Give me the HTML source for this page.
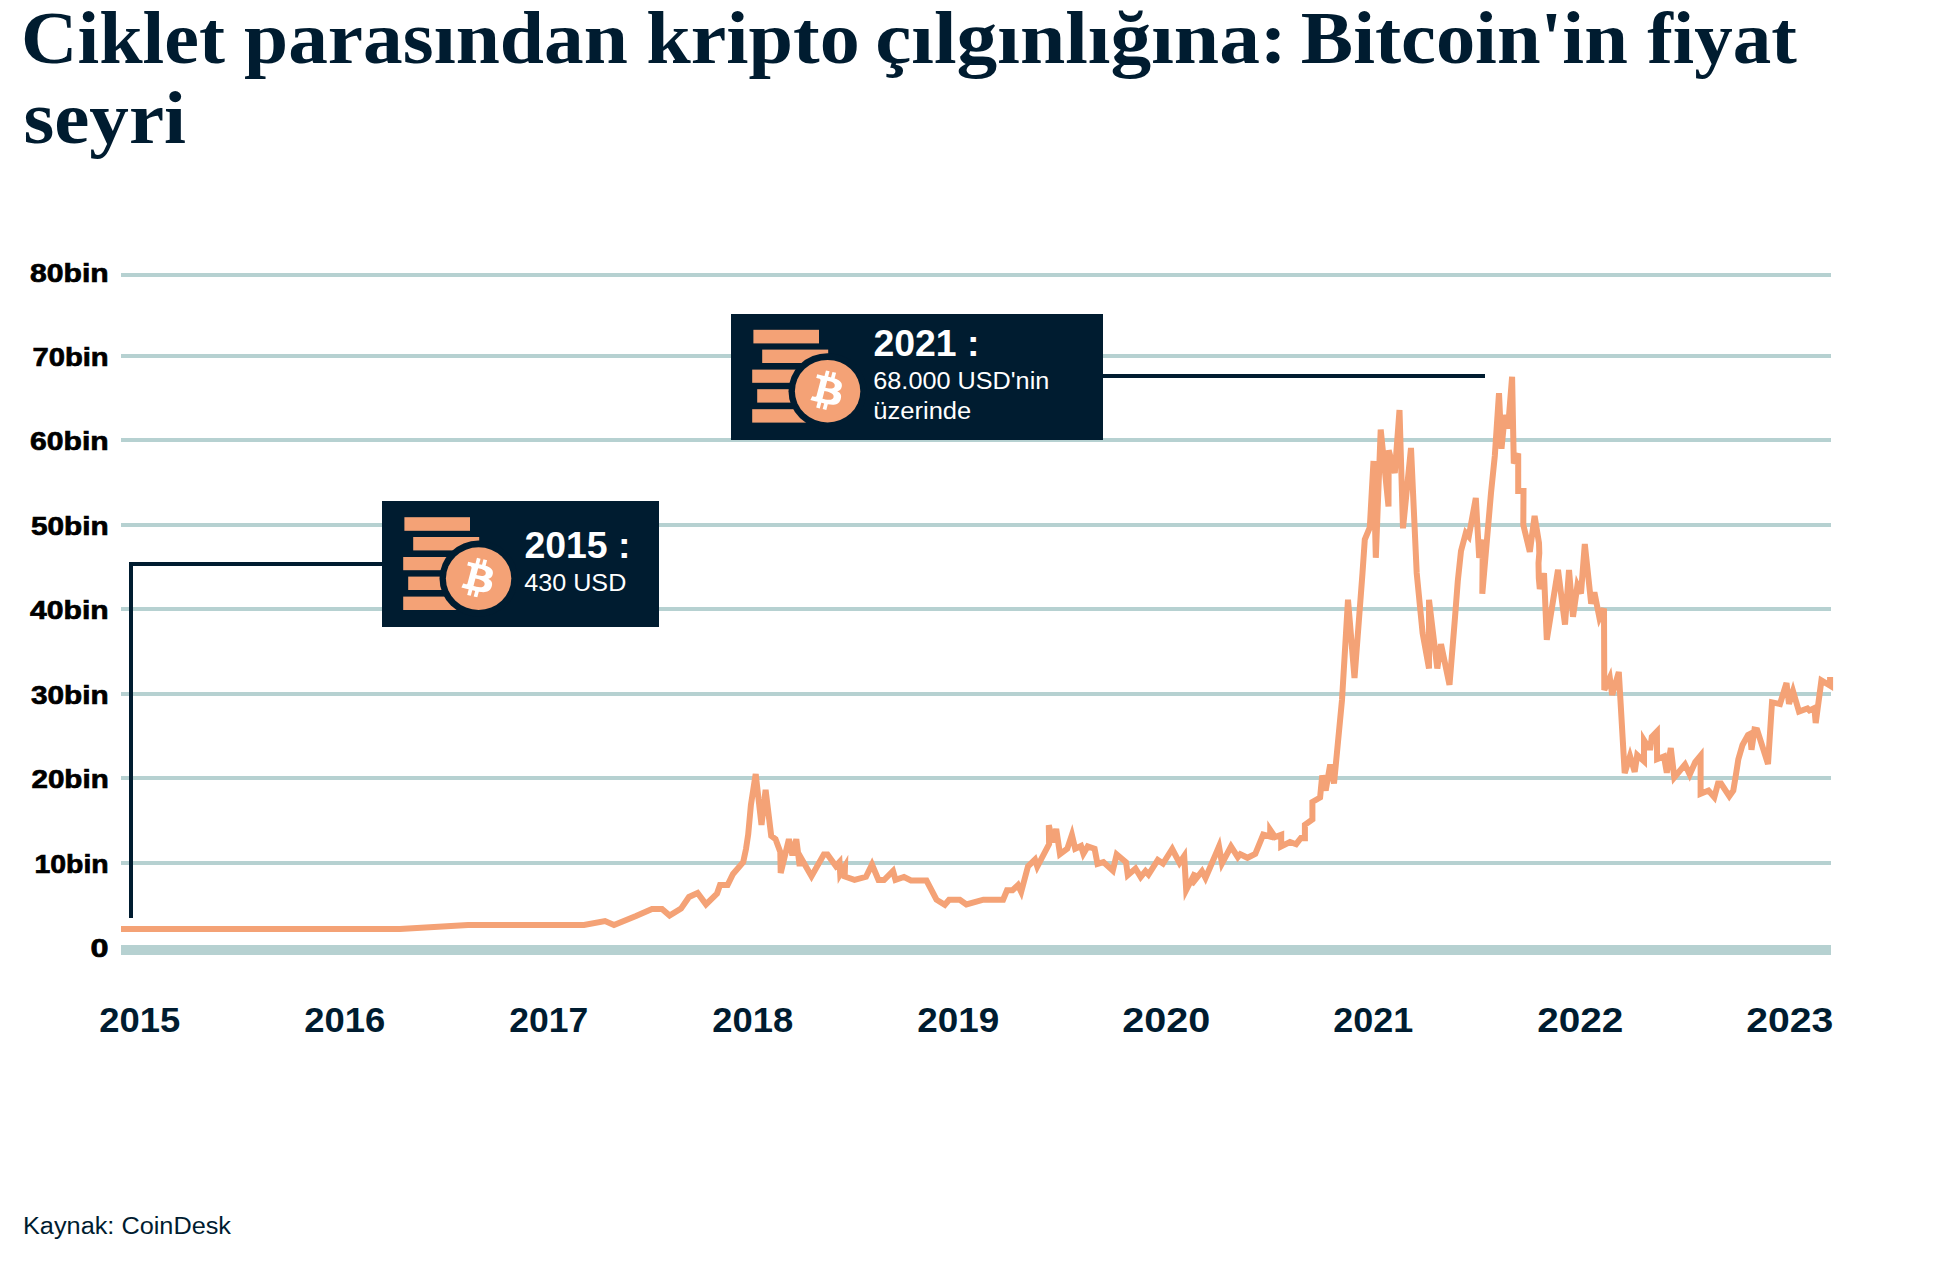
<!DOCTYPE html>
<html lang="tr">
<head>
<meta charset="utf-8">
<title>Ciklet parasından kripto çılgınlığına: Bitcoin'in fiyat seyri</title>
<style>
  html, body { margin: 0; padding: 0; background: #ffffff; }
  body { width: 1940px; height: 1271px; overflow: hidden; position: relative; }
  svg { position: absolute; left: 0; top: 0; display: block; }
  .title { font-family: "Liberation Serif", "DejaVu Serif", serif; font-weight: 700; font-size: 74px; fill: #001c30; }
  .ylab  { font-family: "Liberation Sans", "DejaVu Sans", sans-serif; font-weight: 700; font-size: 26px; fill: #000; text-anchor: end; stroke: #000; stroke-width: 0.7px; }
  .year  { font-family: "Liberation Sans", "DejaVu Sans", sans-serif; font-weight: 700; font-size: 35px; fill: #001c30; }
  .chead { font-family: "Liberation Sans", "DejaVu Sans", sans-serif; font-weight: 700; font-size: 37px; fill: #fff; }
  .cbody { font-family: "Liberation Sans", "DejaVu Sans", sans-serif; font-weight: 400; font-size: 23.5px; fill: #fff; }
  .src   { font-family: "Liberation Sans", "DejaVu Sans", sans-serif; font-weight: 400; font-size: 23px; fill: #001c30; }
</style>
</head>
<body>
<svg width="1940" height="1271" viewBox="0 0 1940 1271">
  <!-- headline -->
  <g class="title">
    <text y="63"><tspan x="21" textLength="204" lengthAdjust="spacingAndGlyphs">Ciklet</tspan> <tspan x="244" textLength="383.8" lengthAdjust="spacingAndGlyphs">parasından</tspan> <tspan x="646.2" textLength="213.6" lengthAdjust="spacingAndGlyphs">kripto</tspan> <tspan x="875.2" textLength="411.8" lengthAdjust="spacingAndGlyphs">çılgınlığına:</tspan> <tspan x="1300.8" textLength="327" lengthAdjust="spacingAndGlyphs">Bitcoin'in</tspan> <tspan x="1647.2" textLength="149.6" lengthAdjust="spacingAndGlyphs">fiyat</tspan></text>
    <text x="23.4" y="143" textLength="162.6" lengthAdjust="spacingAndGlyphs">seyri</text>
  </g>

  <!-- horizontal gridlines -->
  <g fill="#b6d1d1">
    <rect x="121" y="273" width="1710" height="4"/>
    <rect x="121" y="354" width="1710" height="4"/>
    <rect x="121" y="438" width="1710" height="4"/>
    <rect x="121" y="523" width="1710" height="4"/>
    <rect x="121" y="607" width="1710" height="4"/>
    <rect x="121" y="692" width="1710" height="4"/>
    <rect x="121" y="776" width="1710" height="4"/>
    <rect x="121" y="861" width="1710" height="4"/>
    <rect x="121" y="945" width="1710" height="10"/>
  </g>

  <!-- y axis labels -->
  <g class="ylab">
    <text x="108.7" y="281.5" textLength="78.6" lengthAdjust="spacingAndGlyphs">80bin</text>
    <text x="108.7" y="366" textLength="76.2" lengthAdjust="spacingAndGlyphs">70bin</text>
    <text x="108.7" y="450.4" textLength="78.6" lengthAdjust="spacingAndGlyphs">60bin</text>
    <text x="108.7" y="534.9" textLength="77.7" lengthAdjust="spacingAndGlyphs">50bin</text>
    <text x="108.7" y="619.4" textLength="78.6" lengthAdjust="spacingAndGlyphs">40bin</text>
    <text x="108.7" y="703.9" textLength="77.7" lengthAdjust="spacingAndGlyphs">30bin</text>
    <text x="108.7" y="788.3" textLength="77.2" lengthAdjust="spacingAndGlyphs">20bin</text>
    <text x="108.7" y="872.8" textLength="74.2" lengthAdjust="spacingAndGlyphs">10bin</text>
    <text x="108.5" y="957.3" textLength="18" lengthAdjust="spacingAndGlyphs">0</text>
  </g>

  <!-- x axis labels -->
  <g class="year">
    <text x="99.2" y="1032.3" textLength="81" lengthAdjust="spacingAndGlyphs">2015</text>
    <text x="304.2" y="1032.3" textLength="81" lengthAdjust="spacingAndGlyphs">2016</text>
    <text x="509.2" y="1032.3" textLength="79" lengthAdjust="spacingAndGlyphs">2017</text>
    <text x="712.2" y="1032.3" textLength="81" lengthAdjust="spacingAndGlyphs">2018</text>
    <text x="917.2" y="1032.3" textLength="82" lengthAdjust="spacingAndGlyphs">2019</text>
    <text x="1122.2" y="1032.3" textLength="88" lengthAdjust="spacingAndGlyphs">2020</text>
    <text x="1333.2" y="1032.3" textLength="80" lengthAdjust="spacingAndGlyphs">2021</text>
    <text x="1537.2" y="1032.3" textLength="86" lengthAdjust="spacingAndGlyphs">2022</text>
    <text x="1746.2" y="1032.3" textLength="87" lengthAdjust="spacingAndGlyphs">2023</text>
  </g>

  <!-- bitcoin price line -->
  <polyline fill="none" stroke="#f4a276" stroke-width="6" stroke-linejoin="miter" stroke-miterlimit="4" stroke-linecap="butt"
    points="121,929 400,929 468,925 584,925 605,921 614,925 636,916 652,909 662,909 669.6,915.6 681,908.6 689,897 697.6,893 706,904.4 717,893.6 720,885 727.6,885 733,874 743.2,862.2 746,849 748.2,834.5 750.9,805 755.7,774 761.5,825 765.6,789.8 771.2,835.8 775.5,839 780.3,852 780.7,873 788.9,839.2 792.4,855.3 796.3,839.2 799.7,866 800.3,856.7 811.5,876.2 823.8,854.5 827.5,854.5 835.8,866 839.5,862 840.2,874 845,866 844.7,876.5 854.5,879.9 866,876.8 872,864.5 878.5,880 884,880 893,871 895.5,879.8 904,877 911,880.5 926.5,880.5 936.5,899.7 944.8,904.8 949.1,899.7 959.8,899.7 966.4,904.5 983.4,899.7 1003.1,899.7 1007,890.3 1012.5,890.3 1018,885.1 1021.2,891.9 1028,866.3 1035,859.5 1037.3,866.6 1049.1,844.1 1048.8,825.1 1052.9,842.4 1056.2,828.9 1060,854.1 1067.3,848.7 1071.9,834.9 1075.2,848.7 1081,846 1083.4,853.7 1087.7,846.4 1094.6,848.7 1097.5,863.9 1103.4,862.1 1112.8,870.7 1116.7,854.5 1126,862.2 1127.8,875.2 1135.5,868.5 1140.7,877 1145.5,871.2 1148.5,874.5 1157.8,860 1163,863.5 1172.2,849 1179.5,863 1184.2,856 1186.2,890 1195.2,872.5 1191.5,884.5 1202,871.2 1205.5,878 1215.3,855.2 1219,846.5 1222,863.5 1231,846.5 1237.8,857.2 1240.3,854.2 1247.5,857.8 1255.3,853.9 1263.2,834.6 1270.1,836.5 1270.2,829.9 1275,837 1281.2,834.7 1281.2,846.4 1290,842 1296.1,844.2 1300.9,838 1304.9,838.1 1304.9,824.9 1312.4,819.5 1312.4,802 1320.1,797.5 1322.2,775.5 1325.7,790.5 1330.2,764.5 1334,783.5 1342,700 1348,599.8 1354.5,678 1362.5,573 1364.8,539.5 1369.8,527.5 1373.5,461 1375.8,557.8 1380.7,429.5 1388.5,506.5 1388.7,450.3 1394.8,473 1399.5,410 1403,528.3 1411,448 1416.7,573 1422.6,633 1429,668.5 1429,599.8 1437.3,668.5 1441,644.2 1449.5,684.8 1454.8,620 1457.8,581 1461,551 1465.8,533 1468.8,536.5 1475.8,498 1479.2,557.8 1482.8,539.7 1482.3,593.8 1491,493 1494.8,456 1499,393.2 1501.5,448.8 1504.8,415 1508,428.5 1512.1,376.7 1513.8,463.5 1518.2,453.5 1518.2,491 1523.5,491 1523.3,525 1529.8,551.8 1534.6,516 1539,543 1539.3,553 1538.5,563 1538.8,578 1539.8,589 1544,573.2 1546.8,639.8 1558,569.8 1565,624.5 1569,570 1573,616.8 1577.4,585.5 1581,593.5 1584.8,544 1591.2,603.7 1594.4,592.3 1599.5,618 1604,608.5 1604.3,690 1609.8,677.8 1612.2,695 1618.8,672 1624.7,773.2 1630,756 1634.7,771.8 1637.2,755 1644,761.2 1644,740.3 1648.4,747.4 1650.4,747.4 1651.8,736.8 1656.9,731.6 1657.1,759.2 1664,756.5 1666.8,772.8 1670.8,748 1674.3,777.5 1685,764.5 1689.7,774.5 1695.2,762.2 1700.6,755.6 1700.6,793.8 1708.5,790.5 1714.3,797.2 1718,783.5 1721,783.5 1729.3,796.2 1733.3,790.5 1735.8,775.5 1738.3,759.5 1742.5,745 1748,735 1750,734 1751.5,749.8 1754.5,729.5 1757.2,730 1768,764 1772,702.3 1780,704 1786.5,683 1789,703.8 1793,691 1799,711.5 1807.4,708.4 1809.4,710.4 1814.4,708 1815.7,723.1 1821.4,680.5 1830.1,685.7 1830.1,677"/>

  <!-- callout connectors -->
  <g fill="#001c30">
    <rect x="129" y="562" width="4" height="356"/>
    <rect x="129" y="562" width="254" height="4"/>
    <rect x="1102" y="374" width="383" height="4"/>
  </g>

  <!-- callout 2015 -->
  <rect x="382" y="501" width="277" height="126" fill="#001c30"/>
    <g transform="translate(382,501)">
      <g fill="#f4a276">
        <rect x="22.4" y="16.2" width="65.6" height="13.6"/>
        <rect x="31.2" y="36" width="66" height="13.4"/>
        <rect x="21.2" y="56" width="66" height="13.2"/>
        <rect x="26.2" y="75.6" width="66" height="13.4"/>
        <rect x="21.2" y="95.6" width="66" height="13.4"/>
      </g>
      <ellipse cx="96.6" cy="77.6" rx="39.1" ry="38" fill="#001c30"/>
      <ellipse cx="96.6" cy="77.6" rx="32.7" ry="31.3" fill="#f4a276"/>
      <path transform="translate(63.36,45.95) scale(1.03,0.975)" fill="#fff" d="M46.11 27.441c.636-4.258-2.606-6.547-7.039-8.074l1.438-5.768-3.51-.875-1.4 5.616c-.924-.23-1.872-.447-2.814-.662l1.41-5.653-3.509-.875-1.439 5.766c-.764-.174-1.514-.346-2.242-.527l.004-.018-4.842-1.209-.934 3.75s2.605.597 2.55.634c1.422.355 1.68 1.296 1.636 2.042l-1.638 6.571c.098.025.225.061.365.117l-.37-.092-2.297 9.205c-.174.432-.615 1.08-1.609.834.035.051-2.552-.637-2.552-.637l-1.743 4.02 4.57 1.139c.85.213 1.683.436 2.502.646l-1.453 5.835 3.507.875 1.44-5.772c.957.26 1.887.5 2.797.726L27.504 50.8l3.511.875 1.453-5.823c5.987 1.133 10.49.676 12.383-4.738 1.527-4.36-.075-6.875-3.225-8.516 2.294-.531 4.022-2.04 4.483-5.157zM38.087 38.69c-1.086 4.36-8.426 2.004-10.807 1.412l1.928-7.729c2.38.594 10.011 1.77 8.88 6.317zm1.085-11.312c-.99 3.966-7.1 1.951-9.083 1.457l1.748-7.01c1.983.494 8.367 1.416 7.335 5.553z"/>
    </g>
  <text class="chead" x="524.5" y="558" textLength="106" lengthAdjust="spacingAndGlyphs">2015 :</text>
  <text class="cbody" x="524.3" y="590.5" textLength="102" lengthAdjust="spacingAndGlyphs">430 USD</text>

  <!-- callout 2021 -->
  <rect x="731" y="314" width="372" height="126" fill="#001c30"/>
    <g transform="translate(731,313.6)">
      <g fill="#f4a276">
        <rect x="22.4" y="16.2" width="65.6" height="13.6"/>
        <rect x="31.2" y="36" width="66" height="13.4"/>
        <rect x="21.2" y="56" width="66" height="13.2"/>
        <rect x="26.2" y="75.6" width="66" height="13.4"/>
        <rect x="21.2" y="95.6" width="66" height="13.4"/>
      </g>
      <ellipse cx="96.6" cy="77.6" rx="39.1" ry="38" fill="#001c30"/>
      <ellipse cx="96.6" cy="77.6" rx="32.7" ry="31.3" fill="#f4a276"/>
      <path transform="translate(63.36,45.95) scale(1.03,0.975)" fill="#fff" d="M46.11 27.441c.636-4.258-2.606-6.547-7.039-8.074l1.438-5.768-3.51-.875-1.4 5.616c-.924-.23-1.872-.447-2.814-.662l1.41-5.653-3.509-.875-1.439 5.766c-.764-.174-1.514-.346-2.242-.527l.004-.018-4.842-1.209-.934 3.75s2.605.597 2.55.634c1.422.355 1.68 1.296 1.636 2.042l-1.638 6.571c.098.025.225.061.365.117l-.37-.092-2.297 9.205c-.174.432-.615 1.08-1.609.834.035.051-2.552-.637-2.552-.637l-1.743 4.02 4.57 1.139c.85.213 1.683.436 2.502.646l-1.453 5.835 3.507.875 1.44-5.772c.957.26 1.887.5 2.797.726L27.504 50.8l3.511.875 1.453-5.823c5.987 1.133 10.49.676 12.383-4.738 1.527-4.36-.075-6.875-3.225-8.516 2.294-.531 4.022-2.04 4.483-5.157zM38.087 38.69c-1.086 4.36-8.426 2.004-10.807 1.412l1.928-7.729c2.38.594 10.011 1.77 8.88 6.317zm1.085-11.312c-.99 3.966-7.1 1.951-9.083 1.457l1.748-7.01c1.983.494 8.367 1.416 7.335 5.553z"/>
    </g>
  <text class="chead" x="873.5" y="356" textLength="106" lengthAdjust="spacingAndGlyphs">2021 :</text>
  <text class="cbody" x="873.3" y="388.8" textLength="176" lengthAdjust="spacingAndGlyphs">68.000 USD'nin</text>
  <text class="cbody" x="873.3" y="418.8" textLength="98" lengthAdjust="spacingAndGlyphs">üzerinde</text>

  <!-- source -->
  <text class="src" x="23" y="1234.4" textLength="208" lengthAdjust="spacingAndGlyphs">Kaynak: CoinDesk</text>
</svg>
</body>
</html>
